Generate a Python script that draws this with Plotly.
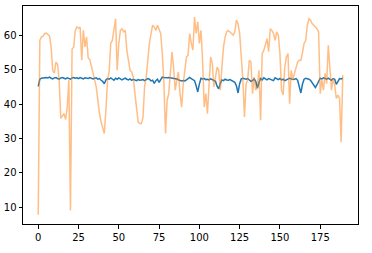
import plotly.graph_objects as go

orange = [7.8, 58.5, 59.5, 59.7, 60.5, 60.6, 60.2, 59.8, 56.6, 49.8,
          49.0, 52.2, 51.5, 46.9, 35.8, 36.7, 37.2, 35.5, 39.1, 47.0,
          9.0, 56.0, 56.5, 61.4, 62.4, 62.0, 62.4, 52.7, 61.4, 56.6,
          59.5, 53.4, 52.9, 51.0, 48.4, 47.0, 45.0, 40.6, 37.2, 34.8,
          33.3, 31.4, 38.2, 47.0, 49.3, 57.6, 58.5, 61.4, 64.8, 49.8,
          57.6, 61.4, 61.9, 61.0, 61.4, 55.6, 53.2, 49.8, 49.3, 47.8,
          43.0, 38.2, 34.8, 34.3, 34.3, 36.0, 45.0, 47.8, 53.7, 57.6,
          60.5, 62.9, 62.4, 61.4, 62.9, 61.4, 60.5, 54.7, 45.9, 31.4,
          41.1, 43.0, 50.7, 55.1, 50.7, 44.0, 47.0, 49.3, 43.0, 39.1,
          45.9, 49.3, 53.7, 54.2, 60.5, 57.6, 55.7, 65.3, 60.5, 63.9,
          57.6, 61.4, 52.7, 39.1, 43.0, 37.2, 45.9, 53.7, 51.9, 45.0,
          47.8, 50.7, 49.8, 44.0, 50.7, 56.6, 59.5, 61.0, 61.4, 60.8,
          60.5, 60.0, 61.0, 64.4, 63.4, 60.5, 54.7, 47.0, 36.2, 45.9,
          47.0, 52.7, 52.2, 43.0, 47.8, 44.0, 45.0, 49.8, 35.3, 54.7,
          55.6, 57.0, 59.0, 55.2, 61.9, 61.4, 60.5, 58.5, 61.0, 60.0,
          54.7, 44.0, 42.6, 50.7, 53.7, 54.7, 40.1, 49.8, 47.0, 48.9,
          50.7, 52.2, 52.7, 52.7, 55.0, 57.6, 58.5, 62.9, 64.8, 64.4,
          63.4, 62.9, 62.4, 61.9, 61.0, 43.0, 47.0, 44.0, 48.9, 45.9,
          57.1, 50.7, 44.0, 47.4, 45.5, 41.6, 42.6, 41.6, 28.9, 48.4]

blue = [45.1, 47.2, 47.5, 47.6, 47.5, 47.7, 47.6, 47.8, 47.5, 47.3,
        47.6, 47.7, 47.4, 47.2, 47.6, 47.7, 47.5, 47.3, 47.6, 47.5,
        47.2, 47.6, 47.7, 47.5, 47.6, 47.4, 47.7, 47.5, 47.3, 47.6,
        47.5, 47.4, 47.7, 47.6, 47.3, 47.5, 47.6, 47.2, 47.4, 46.9,
        46.6, 45.9, 47.0, 47.4, 47.2, 47.6, 47.3, 46.9, 47.5, 47.2,
        47.6, 47.4, 47.0, 47.3, 47.5, 47.2, 47.0, 47.3, 46.9, 47.2,
        47.0, 46.8, 47.1, 46.9, 47.0, 47.1, 46.8, 47.0, 47.4, 47.2,
        46.7, 46.9, 46.0, 46.8, 47.2, 46.3, 47.3, 47.8, 47.7, 47.6,
        47.6, 47.7, 47.6, 47.5, 47.6, 47.4, 47.3, 47.0, 46.8, 46.7,
        46.8, 46.7, 47.0, 47.5, 47.7, 47.4, 47.0, 46.8, 45.3, 43.5,
        45.8, 47.5, 47.3, 47.4, 47.1, 47.2, 47.0, 47.3, 47.1, 46.9,
        46.6, 45.2, 44.4, 46.0, 47.0, 46.8, 47.2, 47.0, 46.9, 47.1,
        46.8, 46.7, 46.3, 45.3, 43.2, 45.9, 47.3, 47.5, 47.4, 47.2,
        47.4, 47.0, 46.6, 46.8, 47.3, 46.6, 44.6, 46.2, 47.4, 47.0,
        47.6, 47.3, 47.0, 47.4, 47.2, 47.0, 46.8, 47.6, 47.3, 47.1,
        47.4, 47.0, 47.2, 46.8, 47.0, 47.3, 47.5, 47.3, 47.1, 47.2,
        47.4, 46.9, 45.3, 43.2, 45.8, 47.2, 47.5, 47.4, 47.2, 46.9,
        46.2, 45.2, 44.8, 45.6, 46.8, 47.5, 47.3, 47.6, 47.4, 47.2,
        47.5, 47.3, 46.9, 47.4, 47.2, 45.7, 46.8, 47.4, 47.3, 47.5]

x = list(range(len(blue)))

fig = go.Figure()
fig.add_trace(go.Scatter(x=x, y=blue, mode="lines",
                         line=dict(color="#1f77b4", width=1.5)))
fig.add_trace(go.Scatter(x=x, y=orange, mode="lines", opacity=0.5,
                         line=dict(color="#ff7f0e", width=1.5)))

axis_common = dict(showgrid=False, zeroline=False, showline=True,
                   linecolor="black", linewidth=1, mirror=True,
                   ticks="outside", ticklen=3.5, tickwidth=1,
                   tickcolor="black", automargin=False,
                   tickfont=dict(family="DejaVu Sans", size=10, color="black"))

fig.update_layout(
    width=372, height=253,
    margin=dict(l=23, r=14, t=6, b=29),
    paper_bgcolor="white", plot_bgcolor="white",
    showlegend=False,
    xaxis=dict(range=[-9.45, 198.45], tickvals=[0, 25, 50, 75, 100, 125, 150, 175],
               **axis_common),
    yaxis=dict(range=[5.1, 68.5], tickvals=[10, 20, 30, 40, 50, 60],
               **axis_common),
)

fig.write_html("out.html",
               config={"displayModeBar": False},
               post_script="document.body.style.margin='0';document.body.style.overflow='hidden';")
